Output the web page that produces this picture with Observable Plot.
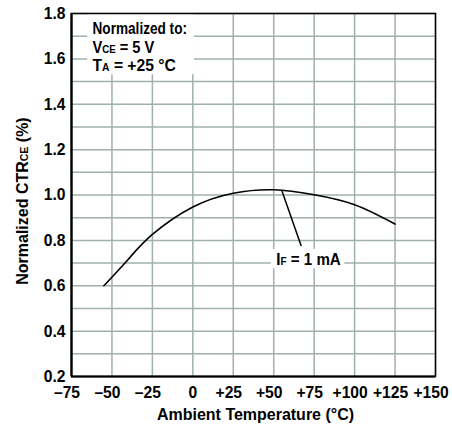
<!DOCTYPE html>
<html><head><meta charset="utf-8">
<script src="https://cdn.jsdelivr.net/npm/d3@7"></script>
<script src="https://cdn.jsdelivr.net/npm/@observablehq/plot@0.6"></script>
<style>
body{margin:0;background:#fff;}
#chart svg{display:block;}
</style></head><body><div id="chart"></div>
<script>
const temperature = [-55, -40, -25, 0, 25, 50, 75, 100, 125];
const ctr = [0.600, 0.716, 0.826, 0.947, 1.008, 1.023, 1.001, 0.957, 0.872];
const xTicks = [-75, -50, -25, 0, 25, 50, 75, 100, 125, 150];
const xTickLabels = ["\u201375", "\u201350", "\u201325", "0", "+25", "+50", "+75", "+100", "+125", "+150"];
const yTicks = [0.2, 0.4, 0.6, 0.8, 1.0, 1.2, 1.4, 1.6, 1.8];
const yGrid = [0.2, 0.3, 0.4, 0.5, 0.6, 0.7, 0.8, 0.9, 1.0, 1.1, 1.2, 1.3, 1.4, 1.5, 1.6, 1.7, 1.8];
const legendLines = ["Normalized to:", "VCE = 5 V", "TA = +25 \u00B0C"];
const legendY = [1.732, 1.648, 1.571];
const curveLabel = "IF = 1 mA";
const xTitle = "Ambient Temperature (\u00B0C)";
const yTitle = "Normalized CTRCE (%)";

const data = temperature.map((t, i) => ({t, v: ctr[i]}));
const FONT = '"Liberation Sans", Arial, sans-serif';
const GRID = "#9fb0ae";
const xLabel = d => xTickLabels[xTicks.indexOf(d)];
const signedTicks = xTicks.filter(d => d !== 0);
const zeroTicks = xTicks.filter(d => d === 0);

const chart = Plot.plot({
  width: 452,
  height: 433,
  marginLeft: 71,
  marginRight: 17,
  marginTop: 13,
  marginBottom: 57,
  style: {fontFamily: FONT, fontSize: "17px", fontWeight: "bold", color: "black", background: "white"},
  x: {domain: [-75, 150]},
  y: {domain: [0.2, 1.8]},
  marks: [
    Plot.ruleX(xTicks, {stroke: GRID, strokeWidth: 1.5, strokeOpacity: 1}),
    Plot.ruleY(yGrid, {stroke: GRID, strokeWidth: 1.5, strokeOpacity: 1}),
    Plot.rect([{x1: -65, x2: 1, y1: 1.53, y2: 1.8}], {x1: "x1", x2: "x2", y1: "y1", y2: "y2", fill: "white"}),
    Plot.rect([{x1: 48.5, x2: 94, y1: 0.675, y2: 0.76}], {x1: "x1", x2: "x2", y1: "y1", y2: "y2", fill: "white"}),
    Plot.frame({stroke: "black", strokeWidth: 1.5}),
    Plot.ruleX([-75], {stroke: "black", strokeWidth: 2.2}),
    Plot.ruleY([0.2], {stroke: "black", strokeWidth: 2.2}),
    Plot.line(data, {x: "t", y: "v", curve: "natural", stroke: "black", strokeWidth: 1.6}),
    Plot.link([{x1: 55, y1: 1.02, x2: 67, y2: 0.775}], {x1: "x1", y1: "y1", x2: "x2", y2: "y2", stroke: "black", strokeWidth: 1.5}),
    Plot.axisX(signedTicks, {tickSize: 0, tickPadding: 9, dx: -4.5, tickFormat: xLabel, label: null, fontSize: 17, fontWeight: "bold"}),
    Plot.axisX(zeroTicks, {tickSize: 0, tickPadding: 9, tickFormat: xLabel, label: null, fontSize: 17, fontWeight: "bold"}),
    Plot.axisY(yTicks, {tickSize: 0, tickPadding: 6, tickFormat: d => d.toFixed(1), label: null, fontSize: 17, fontWeight: "bold"}),
    Plot.text(legendLines, {x: -62, y: (d, i) => legendY[i], text: d => d, textAnchor: "start", fontSize: 17, fontWeight: "bold"}),
    Plot.text([curveLabel], {x: 71.5, y: 0.717, text: d => d, fontSize: 17, fontWeight: "bold"}),
    Plot.text([xTitle], {frameAnchor: "bottom", dx: 2, dy: 43, text: d => d, fontSize: 17, fontWeight: "bold"}),
    Plot.text([yTitle], {frameAnchor: "left", textAnchor: "middle", dx: -49, dy: 6, rotate: -90, text: d => d, fontSize: 17, fontWeight: "bold"})
  ]
});

// small-caps style subscripts
const subs = [["VCE", "V", "CE"], ["TA", "T", "A"], ["IF", "I", "F"], ["CTRCE", "CTR", "CE"]];
chart.querySelectorAll("text").forEach(el => {
  if (el.querySelector("tspan")) return;
  const s = el.textContent;
  for (const [key, main, sub] of subs) {
    const idx = s.indexOf(key);
    if (idx >= 0) {
      const before = s.slice(0, idx) + main;
      const after = s.slice(idx + key.length);
      const sel = d3.select(el);
      sel.text(null);
      sel.append("tspan").text(before);
      sel.append("tspan").attr("font-size", "0.66em").text(sub);
      sel.append("tspan").text(after);
      break;
    }
  }
});
document.getElementById("chart").appendChild(chart);

// condensed look: compress each text along its baseline
chart.querySelectorAll("text").forEach(el => {
  const s = el.textContent;
  let k = 0.92;
  if (s.startsWith("Normalized to")) k = 0.8;
  else if (s.startsWith("VCE")) k = 0.86;
  else if (s.startsWith("TA")) k = 0.92;
  else if (s.startsWith("IF")) k = 0.89;
  else if (s === "Ambient Temperature (\u00B0C)" || s.startsWith("Normalized CTR")) k = 0.94;
  const len = el.getComputedTextLength();
  if (len > 0) {
    el.setAttribute("textLength", (len * k).toFixed(2));
    el.setAttribute("lengthAdjust", "spacingAndGlyphs");
  }
});
</script>
</body></html>
